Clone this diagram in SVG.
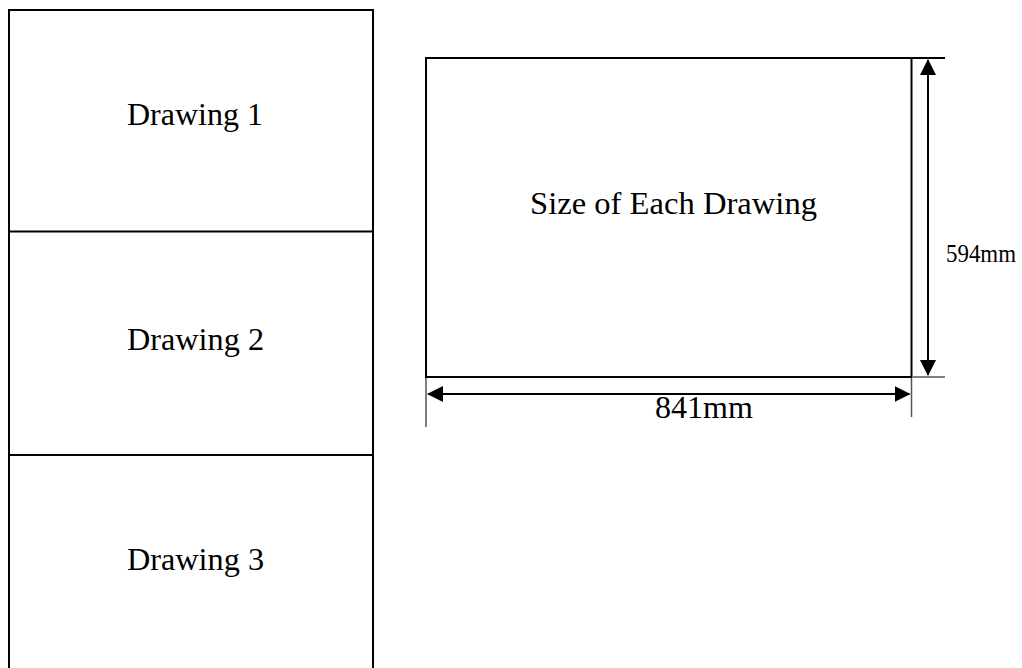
<svg xmlns="http://www.w3.org/2000/svg" width="1022" height="668" viewBox="0 0 1022 668">
<style>
.ln{stroke:#000;stroke-width:2;fill:none}
.ext{stroke:#555;stroke-width:1.5;fill:none}
.t{font-family:"Liberation Serif","Times New Roman",serif;fill:#000}
.big{font-size:32px}
.sm{font-size:25px}
</style>
<defs>
<marker id="ah" viewBox="0 0 16 16" refX="15" refY="8" markerWidth="16" markerHeight="16" markerUnits="userSpaceOnUse" orient="auto-start-reverse">
<path d="M0,0 L16,8 L0,16 Z" fill="#000"/>
</marker>
</defs>
<rect width="1022" height="668" fill="#fff"/>
<g id="drawing1">
<path class="ln" d="M9,680 V10 H373 V680"/>
<text class="t big" x="127" y="125" textLength="136" lengthAdjust="spacingAndGlyphs">Drawing 1</text>
</g>
<g id="drawing2">
<path class="ln" d="M9,231.5 H373"/>
<text class="t big" x="127" y="350" textLength="137" lengthAdjust="spacingAndGlyphs">Drawing 2</text>
</g>
<g id="drawing3">
<path class="ln" d="M9,455 H373"/>
<text class="t big" x="127" y="570" textLength="137" lengthAdjust="spacingAndGlyphs">Drawing 3</text>
</g>
<g id="size">
<rect class="ln" x="426" y="58" width="485.5" height="319"/>
<path class="ln" d="M911.5,58 H945"/>
<text class="t big" x="530" y="214" textLength="287" lengthAdjust="spacingAndGlyphs">Size of Each Drawing</text>
</g>
<g id="connectors">
<path class="ext" d="M913,377 H945"/>
<path class="ext" d="M426,378 V427"/>
<path class="ext" d="M911.5,378 V417"/>
<path class="ln" d="M928,60 V375" marker-start="url(#ah)" marker-end="url(#ah)"/>
<path class="ln" d="M428,394 H909.5" marker-start="url(#ah)" marker-end="url(#ah)"/>
<text class="t sm" x="946" y="262" textLength="70" lengthAdjust="spacingAndGlyphs">594mm</text>
<text class="t big" x="655" y="418" textLength="98" lengthAdjust="spacingAndGlyphs">841mm</text>
</g>
</svg>
